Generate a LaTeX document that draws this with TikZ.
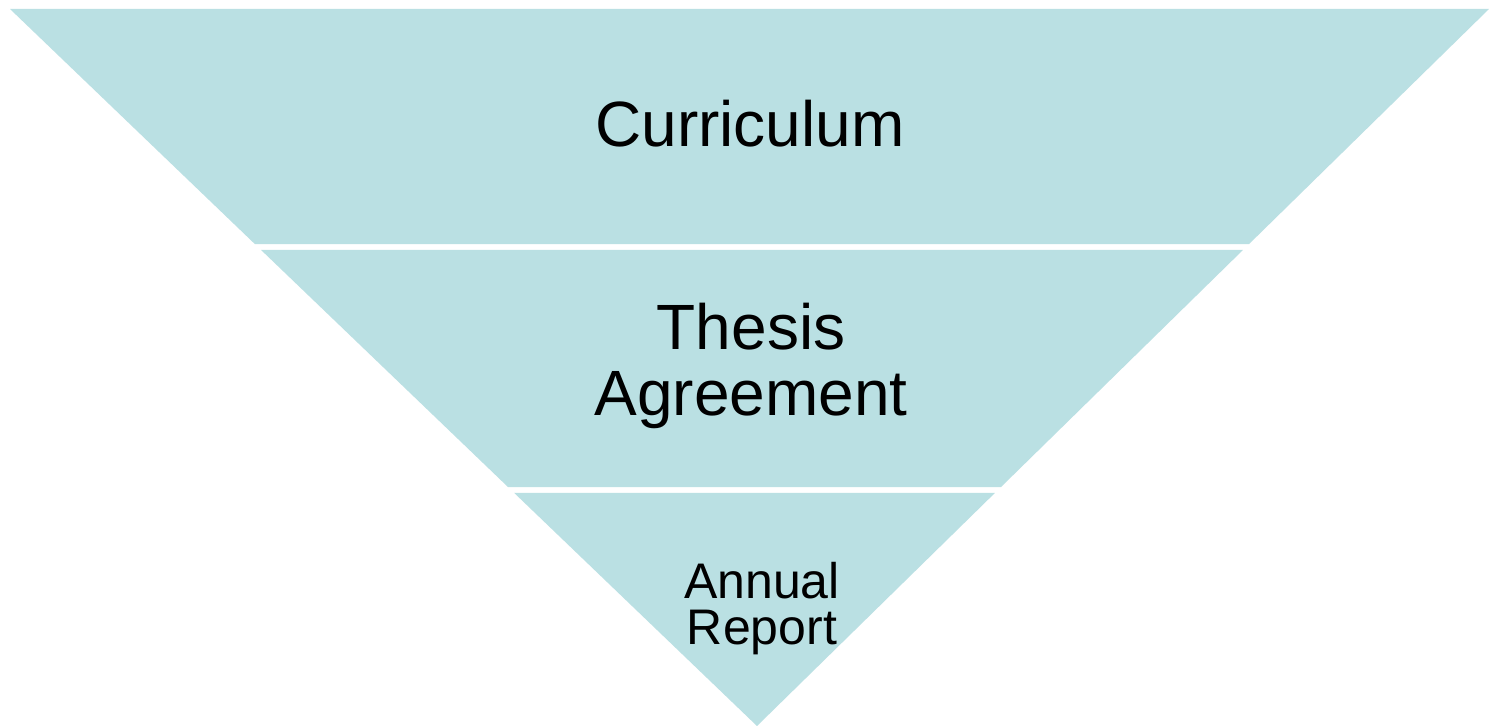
\documentclass[tikz,border=0pt]{standalone}
\usepackage{fontspec}
\setmainfont{Liberation Sans}
\usetikzlibrary{calc}
\definecolor{band}{RGB}{186,224,227}
\tikzset{
  bandfill/.style={fill=band, draw=none},
  bigtxt/.style={font=\fontsize{32pt}{33pt}\selectfont, text=black, inner sep=0pt, align=center},
  smalltxt/.style={font=\fontsize{25pt}{23pt}\selectfont, text=black, inner sep=0pt, align=center}
}
\begin{document}
\begin{tikzpicture}[x=0.5pt,y=-0.5pt]
\useasboundingbox (0,0) rectangle (1489,726);
\fill[white] (0,0) rectangle (1489,726);
\coordinate (TL) at (10,9);
\coordinate (TR) at (1489,9);
\coordinate (A) at (757,726);
% band 1
\fill[bandfill] (TL) -- (TR) -- ($(TR)!0.3278!(A)$) -- ($(TL)!0.3278!(A)$) -- cycle;
% band 2
\fill[bandfill] ($(TL)!0.3361!(A)$) -- ($(TR)!0.3361!(A)$) -- ($(TR)!0.6667!(A)$) -- ($(TL)!0.6667!(A)$) -- cycle;
% band 3
\fill[bandfill] ($(TL)!0.6750!(A)$) -- ($(TR)!0.6750!(A)$) -- (A) -- cycle;
\node[bigtxt, anchor=base] (curr) at (750,147) {Curriculum};
\node[bigtxt, anchor=base] (thesis) at (751,416) {Thesis\\Agreement};
\node[smalltxt, anchor=base] (annual) at (762,645) {Annual\\Report};
\end{tikzpicture}
\end{document}
